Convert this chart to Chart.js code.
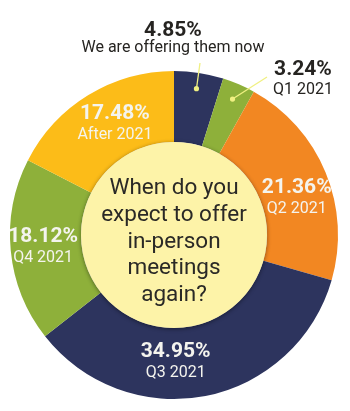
<!DOCTYPE html>
<html>
<head>
<meta charset="utf-8">
<script src="https://cdn.jsdelivr.net/npm/chart.js@4"></script>
<style>
  html, body { margin: 0; padding: 0; background: #fff; }
  #wrap { width: 350px; height: 411px; }
</style>
</head>
<body>
<div id="wrap"><canvas id="myChart" width="350" height="411"></canvas></div>
<script>
const categories = ['We are offering them now', 'Q1 2021', 'Q2 2021', 'Q3 2021', 'Q4 2021', 'After 2021'];
const shares = [4.85, 3.24, 21.36, 34.95, 18.12, 17.48];
const question = ['When do you', 'expect to offer', 'in-person', 'meetings', 'again?'];

const navy = 'rgb(45, 52, 94)';
const green = 'rgb(142, 176, 58)';
const orange = 'rgb(242, 135, 34)';
const gold = 'rgb(252, 188, 24)';
const sliceColors = [navy, green, orange, navy, green, gold];
const fontName = 'Roboto, "DejaVu Sans", sans-serif';

// nudges for the labels that sit inside the ring (index -> [dx, dy])
const insideNudge = { 2: [4, 12], 3: [-23, 1], 4: [-3, 0], 5: [8, -1] };

const labelPlugin = {
    id: 'labelPlugin',
    afterDatasetsDraw(chart) {
        const ctx = chart.ctx;
        const meta = chart.getDatasetMeta(0);
        const first = meta.data[0];
        const cx = first.x, cy = first.y;
        const R = first.outerRadius, r = first.innerRadius;

        // pale centre disc with a soft shadow
        ctx.save();
        ctx.shadowColor = 'rgba(0,0,0,0.45)';
        ctx.shadowBlur = 4;
        ctx.shadowOffsetY = 1;
        ctx.beginPath();
        ctx.arc(cx, cy, r, 0, Math.PI * 2);
        ctx.fillStyle = 'rgb(253, 243, 168)';
        ctx.fill();
        ctx.restore();

        ctx.save();
        ctx.textAlign = 'center';
        ctx.textBaseline = 'middle';

        // question in the middle
        ctx.fillStyle = '#2a2926';
        ctx.font = '22.5px ' + fontName;
        question.forEach((line, k) => {
            ctx.fillText(line, cx, cy + 7 + (k - 2) * 26.7);
        });

        meta.data.forEach((arc, i) => {
            const pct = shares[i].toFixed(2) + '%';
            if (insideNudge[i]) {
                const p = arc.tooltipPosition();
                const x = p.x + insideNudge[i][0];
                const y = p.y + insideNudge[i][1];
                ctx.fillStyle = '#f4f4ee';
                ctx.font = 'bold 21px ' + fontName;
                ctx.fillText(pct, x, y - 10.5);
                ctx.font = '16px ' + fontName;
                ctx.fillText(categories[i], x, y + 11);
                return;
            }
            // outside labels with leader lines
            const mid = (arc.startAngle + arc.endAngle) / 2;
            const dx = cx + Math.cos(mid) * (R - 16);
            const dy = cy + Math.sin(mid) * (R - 16);
            let tx, ty, lx, ly;
            if (i === 0) {
                tx = cx - 1; ty = cy - R - 40; lx = cx + 26; ly = cy - R - 8;
            } else {
                tx = cx + 129; ty = cy - R - 1; lx = cx + 93; ly = cy - R + 6;
            }
            ctx.strokeStyle = 'rgb(240, 240, 130)';
            ctx.lineWidth = 1.3;
            ctx.beginPath();
            ctx.moveTo(dx, dy);
            ctx.lineTo(lx, ly);
            ctx.stroke();
            ctx.fillStyle = 'rgb(240, 240, 130)';
            ctx.beginPath();
            ctx.arc(dx, dy, 2.6, 0, Math.PI * 2);
            ctx.fill();

            ctx.fillStyle = '#262421';
            ctx.font = 'bold 21px ' + fontName;
            ctx.fillText(pct, tx, ty);
            ctx.font = '16px ' + fontName;
            ctx.fillText(categories[i], tx, ty + (i === 0 ? 17 : 20));
        });
        ctx.restore();
    }
};

const myChart = new Chart(document.getElementById('myChart'), {
    type: 'doughnut',
    data: {
        labels: categories,
        datasets: [{
            data: shares,
            backgroundColor: sliceColors,
            borderWidth: 0
        }]
    },
    options: {
        responsive: false,
        animation: false,
        cutout: '56.7%',
        layout: { padding: { left: 10, right: 12, top: 71, bottom: 12 } },
        plugins: {
            legend: { display: false },
            tooltip: { enabled: false }
        }
    },
    plugins: [labelPlugin]
});
</script>
</body>
</html>
